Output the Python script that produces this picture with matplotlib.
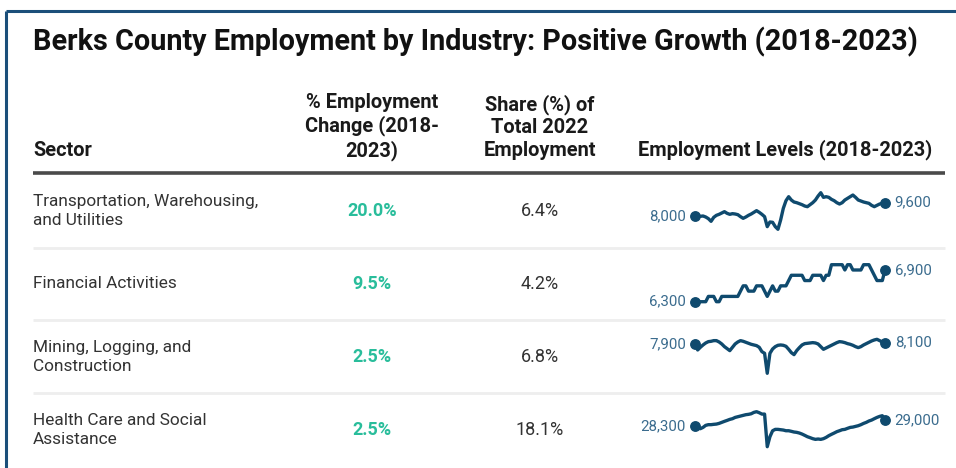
import matplotlib
matplotlib.use("Agg")
import matplotlib.pyplot as plt
import numpy as np

plt.rcParams['font.family'] = ['Roboto', 'DejaVu Sans']

title = "Berks County Employment by Industry: Positive Growth (2018-2023)"
headers = ["Sector", "% Employment\nChange (2018-\n2023)", "Share (%) of\nTotal 2022\nEmployment",
           "Employment Levels (2018-2023)"]
sectors = ["Transportation, Warehousing,\nand Utilities", "Financial Activities",
           "Mining, Logging, and\nConstruction", "Health Care and Social\nAssistance"]
pct_change = ["20.0%", "9.5%", "2.5%", "2.5%"]
share_2022 = ["6.4%", "4.2%", "6.8%", "18.1%"]
start_labels = ["8,000", "6,300", "7,900", "28,300"]
end_labels = ["9,600", "6,900", "8,100", "29,000"]

# Monthly employment, Jan 2018 - Dec 2023 (estimated from the sparklines)
transport = [8000, 7960, 7960, 8000, 7880, 7680, 7360, 7840, 8080, 8200, 8360, 8520,
             8320, 8200, 8280, 8240, 8160, 7920, 7720, 7880, 8080, 8240, 8440, 8640,
             8440, 8200, 7920, 6720, 7280, 7240, 6720, 6400, 7520, 8920, 9840, 10320,
             9920, 9680, 9600, 9480, 9360, 9200, 9120, 9360, 9600, 9920, 10400, 10800,
             10240, 10320, 10240, 10000, 9840, 9600, 9440, 9600, 9920, 10120, 10320, 10520,
             10240, 9920, 9800, 9680, 9600, 9520, 9280, 9120, 9280, 9440, 9520, 9600]
financial = [6300, 6300, 6300, 6300, 6300, 6400, 6400, 6400, 6300, 6300, 6400, 6400,
             6400, 6400, 6400, 6400, 6400, 6500, 6600, 6600, 6500, 6500, 6500, 6600,
             6600, 6600, 6500, 6400, 6500, 6600, 6500, 6500, 6600, 6600, 6600, 6700,
             6800, 6800, 6800, 6800, 6800, 6700, 6700, 6700, 6800, 6800, 6800, 6800,
             6700, 6800, 6800, 7000, 7000, 7000, 7000, 7000, 6900, 7000, 7000, 6900,
             6900, 6900, 6900, 7000, 7000, 7000, 6900, 6800, 6700, 6700, 6700, 6900]
construction = [7900, 7000, 7400, 7750, 8050, 8250, 8300, 8400, 8400, 8200, 7900, 7500,
                7200, 6900, 7400, 7900, 8200, 8400, 8300, 8150, 8000, 7850, 7750, 7650,
                7400, 6750, 6500, 3500, 6500, 7150, 7500, 7700, 7750, 7700, 7550, 7100,
                6600, 6300, 6900, 7350, 7750, 7950, 8000, 8050, 8100, 8050, 7900, 7500,
                7100, 7300, 7500, 7700, 7900, 8100, 8250, 8200, 8100, 7950, 7850, 7700,
                7500, 7350, 7500, 7750, 7950, 8150, 8350, 8500, 8600, 8400, 8200, 8100]
health = [28300, 28140, 27990, 28140, 28380, 28460, 28460, 28500, 28530, 28610, 28730, 28850,
          28960, 29080, 29160, 29310, 29390, 29470, 29550, 29630, 29670, 29740, 29900, 29980,
          29860, 29700, 29700, 25880, 27050, 27750, 27910, 27910, 27870, 27830, 27750, 27750,
          27680, 27600, 27560, 27480, 27360, 27210, 27050, 26940, 26820, 26740, 26780, 26740,
          26820, 26970, 27170, 27330, 27480, 27640, 27750, 27870, 27910, 28030, 28140, 28180,
          28260, 28340, 28460, 28610, 28730, 28890, 29000, 29160, 29310, 29430, 29510, 29000]
series = [transport, financial, construction, health]

W, H = 956, 468
fig = plt.figure(figsize=(W / 100, H / 100), dpi=100)
ax = fig.add_axes([0, 0, 1, 1])
ax.set_xlim(0, W)
ax.set_ylim(H, 0)
ax.axis('off')

# border (top + left)
ax.plot([6.5, W], [10.5, 10.5], color='#1b4f7a', lw=2.2, solid_capstyle='butt')
ax.plot([6.5, 6.5], [10.5, H], color='#1b4f7a', lw=2.2, solid_capstyle='butt')

ax.text(33, 42, title, fontsize=20.7, fontweight='bold', color='#111111',
        ha='left', va='center')

hdr_kw = dict(fontsize=14.4, fontweight='bold', color='#1a1a1a', linespacing=1.23)
ax.text(33, 150, headers[0], ha='left', va='center', **hdr_kw)
ax.text(372, 127, headers[1], ha='center', va='center', multialignment='center', **hdr_kw)
ax.text(540, 127, headers[2], ha='center', va='center', multialignment='center', **hdr_kw)
ax.text(785, 150, headers[3], ha='center', va='center', **hdr_kw)

ax.plot([33, 945], [173, 173], color='#4a4a4a', lw=2.6, solid_capstyle='butt')
for yy in [248, 320, 393]:
    ax.plot([33, 945], [yy, yy], color='#eeeeee', lw=2.0, solid_capstyle='butt')

row_y = [211, 284, 357, 430]
for i in range(4):
    ax.text(33, row_y[i], sectors[i], ha='left', va='center', fontsize=12.4,
            color='#333333', linespacing=1.36)
    ax.text(372, row_y[i], pct_change[i], ha='center', va='center', fontsize=13,
            fontweight='bold', color='#29bd9b')
    ax.text(540, row_y[i], share_2022[i], ha='center', va='center', fontsize=13,
            color='#333333')

# sparkline boxes: pixel top (max) and bottom (min) of each line
box_top = [192.7, 264.7, 339.3, 411.7]
box_bot = [229.3, 301.7, 373.3, 446.7]
x0, x1 = 695, 885
line_c = '#0f4a6e'
lab_c = '#3b6c8e'
for i, s in enumerate(series):
    sa = fig.add_axes([x0 / W, 1 - box_bot[i] / H, (x1 - x0) / W, (box_bot[i] - box_top[i]) / H])
    sa.set_xlim(0, len(s) - 1)
    sa.set_ylim(min(s), max(s))
    sa.axis('off')
    xs = np.arange(len(s))
    sa.plot(xs, s, color=line_c, lw=2.4, clip_on=False, solid_joinstyle='round')
    sa.plot([xs[0], xs[-1]], [s[0], s[-1]], 'o', color=line_c, ms=6.8, clip_on=False)
    sa.annotate(start_labels[i], (xs[0], s[0]), xytext=(-6.5, 0), textcoords='offset points',
                ha='right', va='center', fontsize=10.8, color=lab_c, annotation_clip=False)
    sa.annotate(end_labels[i], (xs[-1], s[-1]), xytext=(7, 0), textcoords='offset points',
                ha='left', va='center', fontsize=10.8, color=lab_c, annotation_clip=False)

fig.savefig('out.png', dpi=100, facecolor='white')
